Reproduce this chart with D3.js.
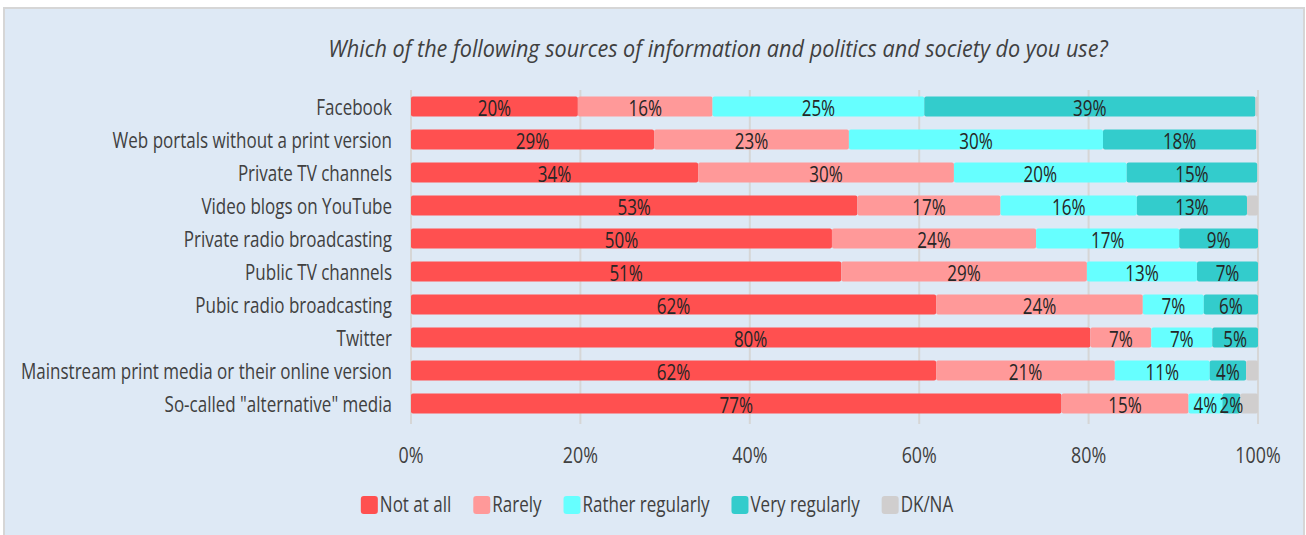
<!DOCTYPE html>
<html><head><meta charset="utf-8">
<script src="https://cdn.jsdelivr.net/npm/d3@7"></script>
<style>body{margin:0;background:#fff;overflow:hidden} text{font-family:"Open Sans",sans-serif;}</style>
</head><body><svg id="c" width="1306" height="535"></svg>
<script>
const title = "Which of the following sources of information and politics and society do you use?";
const categories = ["Facebook","Web portals without a print version","Private TV channels","Video blogs on YouTube","Private radio broadcasting","Public TV channels","Pubic radio broadcasting","Twitter","Mainstream print media or their online version","So-called \"alternative\" media"];
const seriesNames = ["Not at all","Rarely","Rather regularly","Very regularly","DK/NA"];
const notAtAll        = [19.7,28.7,33.9,52.7,49.7,50.8,62.0,80.2,62.0,76.8];
const rarely          = [15.9,23.0,30.2,16.9,24.1,29.0,24.4, 7.2,21.1,15.0];
const ratherRegularly = [25.0,30.0,20.4,16.1,16.9,13.0, 7.2, 7.2,11.2, 4.0];
const veryRegularly   = [39.1,18.1,15.4,13.0, 9.3, 7.2, 6.4, 5.4, 4.3, 2.1];
const dkNa            = [ 0.3, 0.2, 0.0, 1.3, 0.0, 0.0, 0.0, 0.0, 1.4, 2.1];
const tickValues = [0,20,40,60,80,100];
const tickLabels = ["0%","20%","40%","60%","80%","100%"];
const colors = ["#ff5050","#ff9999","#66ffff","#33cccc","#d0cece"];

const SX = 0.81; // horizontal squeeze of glyphs, as in the reference
const svg = d3.select("#c");
svg.append("rect").attr("x",4).attr("y",8).attr("width",1300).attr("height",540)
  .attr("fill","#dee9f5").attr("stroke","#d6d6d6").attr("stroke-width",2);

function stext(g, x, y, str, size, anchor, color, italic, sx){
  const t = g.append("g").attr("transform",`translate(${x},${y}) scale(${sx||SX},1)`)
    .append("text").attr("text-anchor",anchor).attr("font-size",size).attr("fill",color).text(str);
  if(italic) t.attr("font-style","italic");
  return t;
}

const x = d3.scaleLinear().domain([0,100]).range([411,1258]);
const y = d3.scaleBand().domain(categories).range([90,420]).paddingInner(0.394).paddingOuter(0.197);

// title
stext(svg, 718, 57, title, 23, "middle", "#404040", true, 0.94);

// grid
const grid = svg.append("g");
grid.selectAll("line").data(tickValues).join("line")
  .attr("x1",d=>x(d)).attr("x2",d=>x(d)).attr("y1",90).attr("y2",424)
  .attr("stroke","#d6d6d6").attr("stroke-width",2);

// stacked data
const seriesVals = [notAtAll, rarely, ratherRegularly, veryRegularly, dkNa];
const rows = categories.map((c,i)=>{const o={cat:c}; seriesNames.forEach((s,k)=>o[s]=seriesVals[k][i]); return o;});
const stack = d3.stack().keys(seriesNames)(rows);

const bars = svg.append("g");
stack.forEach((layer,k)=>{
  bars.append("g").selectAll("rect").data(layer).join("rect")
    .attr("x",d=>x(d[0])).attr("width",d=>Math.max(0,x(d[1])-x(d[0])))
    .attr("y",d=>y(d.data.cat)).attr("height",y.bandwidth())
    .attr("rx",2).attr("fill",colors[k]);
});
const labels = svg.append("g");
stack.forEach((layer,k)=>{
  if(k>3) return;
  layer.forEach(d=>{
    const v = d[1]-d[0];
    if(v < 1.5) return;
    stext(labels, (x(d[0])+x(d[1]))/2, y(d.data.cat)+y.bandwidth()/2+9, Math.round(v)+"%", 21, "middle", "#262626");
  });
});

// category axis labels
categories.forEach(c=>{
  stext(svg, 392, y(c)+y.bandwidth()/2+8, c, 21, "end", "#404040");
});
// x tick labels
tickValues.forEach((t,i)=>{
  stext(svg, x(t), 463, tickLabels[i], 21, "middle", "#404040", false, 0.85);
});

// legend
const leg = svg.append("g");
let lx = 0;
seriesNames.forEach((s,k)=>{
  const g = leg.append("g");
  g.append("rect").attr("x",0).attr("y",-9).attr("width",17).attr("height",18).attr("rx",3).attr("fill",colors[k]);
  const t = stext(g, 19, 7, s, 21, "start", "#404040");
  const w = 19 + t.node().getComputedTextLength()*SX;
  g.attr("transform",`translate(${lx},505)`);
  lx += w + 22;
});
const totalW = lx - 22;
leg.attr("transform",`translate(${657 - totalW/2},0)`);
</script></body></html>
